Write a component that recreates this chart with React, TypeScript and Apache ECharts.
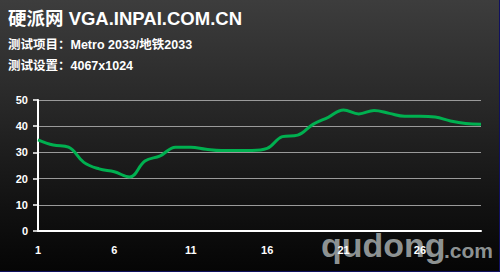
import React, { useEffect, useRef } from "react";
import * as echarts from "echarts";

const categories = Array.from({ length: 30 }, (_, i) => String(i + 1));
const fps = [
  34.8, 32.8, 32.0, 26.2, 23.7, 22.6, 20.6, 26.7, 28.7, 32.0,
  32.0, 31.2, 30.7, 30.7, 30.7, 31.5, 36.0, 36.6, 40.7, 43.4,
  46.2, 44.7, 46.0, 44.9, 43.8, 43.8, 43.5, 42.0, 41.0, 40.7,
];
const titleMain = "硬派网 VGA.INPAI.COM.CN";
const titleItem = "测试项目：Metro 2033/地铁2033";
const titleSetting = "测试设置：4067x1024";

const FONT = '"Liberation Sans", Arial, "Noto Sans CJK SC", sans-serif';

export default function App() {
  const ref = useRef<HTMLDivElement>(null);
  useEffect(() => {
    const chart = echarts.init(ref.current!, null, { renderer: "svg" });
    chart.setOption({
      animation: false,
      backgroundColor: new echarts.graphic.LinearGradient(0, 0, 0, 1, [
        { offset: 0, color: "#3d3d3d" },
        { offset: 0.4, color: "#272727" },
        { offset: 0.75, color: "#121212" },
        { offset: 1, color: "#050505" },
      ]),
      grid: { left: 38, right: 19, top: 100, bottom: 41 },
      xAxis: {
        type: "category",
        data: categories,
        boundaryGap: false,
        z: 10,
        axisLine: { lineStyle: { color: "#ffffff", width: 2 } },
        axisTick: { show: false },
        axisLabel: {
          color: "#ffffff",
          fontWeight: "bold",
          fontSize: 11,
          fontFamily: FONT,
          margin: 13,
          interval: (i: number) => i % 5 === 0,
        },
        splitLine: { show: false },
      },
      yAxis: {
        type: "value",
        min: 0,
        max: 50,
        interval: 10,
        axisLine: { show: true, lineStyle: { color: "#ffffff", width: 2 } },
        axisTick: { show: true, length: 5, lineStyle: { color: "#ffffff", width: 1.5 } },
        axisLabel: {
          color: "#ffffff",
          fontWeight: "bold",
          fontSize: 11,
          fontFamily: FONT,
          margin: 10,
        },
        splitLine: { show: true, lineStyle: { color: "#9a9a9a", width: 1.2 } },
      },
      series: [
        {
          type: "line",
          data: fps,
          smooth: 0.4,
          symbol: "none",
          lineStyle: { color: "#00b050", width: 3 },
          z: 5,
        },
      ],
      graphic: [
        {
          type: "text",
          left: 8,
          top: 9,
          style: { text: titleMain, fill: "#ffffff", font: `bold 18.5px ${FONT}` },
        },
        {
          type: "text",
          left: 8,
          top: 39,
          style: { text: titleItem, fill: "#ffffff", font: `bold 12.5px ${FONT}` },
        },
        {
          type: "text",
          left: 8,
          top: 60,
          style: { text: titleSetting, fill: "#ffffff", font: `bold 12.5px ${FONT}` },
        },
        {
          type: "text",
          left: 321,
          top: 228,
          z: 6,
          style: { text: "qudong", fill: "rgba(150,156,156,0.95)", font: `bold 34px ${FONT}` },
        },
        {
          type: "text",
          left: 444,
          top: 240,
          z: 6,
          style: { text: ".com", fill: "rgba(150,156,156,0.95)", font: `bold 21px ${FONT}` },
        },
        {
          type: "rect",
          shape: { x: 0, y: 271, width: 500, height: 1 },
          style: { fill: "#101060" },
          z: 100,
        },
        {
          type: "rect",
          shape: { x: 499, y: 0, width: 1, height: 272 },
          style: { fill: "#101060" },
          z: 100,
        },
      ],
    });
    return () => chart.dispose();
  }, []);
  return (
    <div
      ref={ref}
      style={{ position: "fixed", left: 0, top: 0, width: 500, height: 272 }}
    />
  );
}
